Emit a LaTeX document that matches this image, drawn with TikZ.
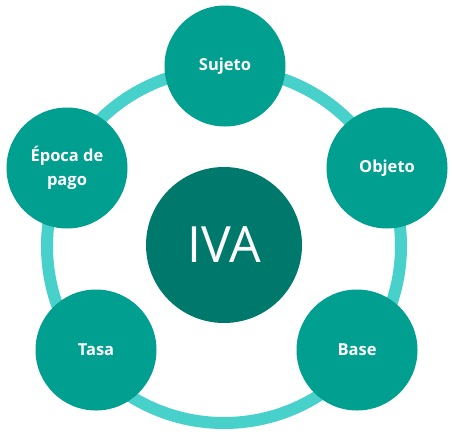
\documentclass[tikz,border=0pt]{standalone}
\usepackage{fontspec}
\setmainfont{Open Sans}
\usepackage{tikz}

\definecolor{vertiva}{HTML}{00796D}
\definecolor{vertpetit}{HTML}{009F90}
\definecolor{anneau}{HTML}{48D0CA}

\begin{document}
\begin{tikzpicture}[x=1pt, y=-1pt,
        petit/.style={circle, fill=vertpetit, minimum size=121pt, inner sep=0pt,
            text=white, font=\fontsize{16.5}{24}\selectfont\bfseries, align=center},
        centre/.style={circle, fill=vertiva, minimum size=156pt, inner sep=0pt,
            text=white, font=\fontsize{50}{60}\selectfont}]
        \useasboundingbox (0,0) rectangle (452,434);

        % Anneau
        \draw[anneau, line width=12pt] (224,246) circle (177pt);

        % Cercle central
        \node[centre] (iva) at (224,245) {IVA};

        % Cercles autour
        \node[petit] (sujeto) at (225,66) {Sujeto};
        \node[petit] (objeto) at (387,168) {Objeto};
        \node[petit] (base) at (357,350) {Base};
        \node[petit] (tasa) at (96,350) {Tasa};
        \node[petit] (epoca) at (67,168) {Época de\\pago};
    \end{tikzpicture}
\end{document}
